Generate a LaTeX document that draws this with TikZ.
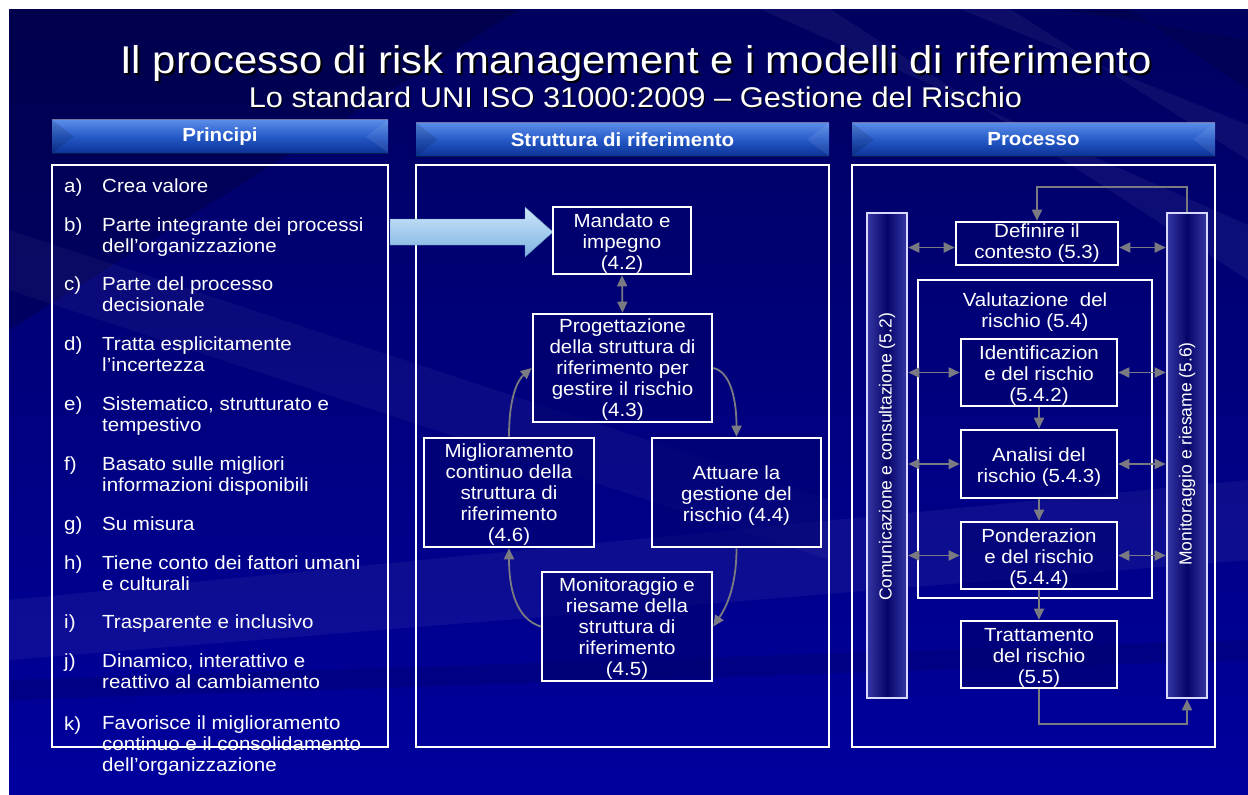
\documentclass[tikz,border=0pt]{standalone}
\usepackage{fontspec}
\setmainfont{Liberation Sans}[FakeStretch=1.08]
\newfontfamily\barfont{Liberation Sans}
\usetikzlibrary{arrows.meta}
\newcommand\tstrut{\rule{0pt}{20.5pt}}
\newcommand\sstrut{\rule{0pt}{17pt}}
\definecolor{bgdark}{RGB}{0,0,95}
\definecolor{bglight}{RGB}{0,0,158}
\definecolor{boxfill}{RGB}{0,0,110}
\definecolor{conngray}{RGB}{122,122,130}
\definecolor{hdrtop}{RGB}{90,140,232}
\definecolor{hdrmid}{RGB}{38,90,200}
\definecolor{hdrbot}{RGB}{12,50,150}
\definecolor{arrtop}{RGB}{205,230,250}
\definecolor{arrbot}{RGB}{125,178,225}
\definecolor{baredge}{RGB}{55,55,165}
\definecolor{barmid}{RGB}{5,5,105}
\tikzset{
  panel/.style={draw=white, line width=2.6pt},
  box/.style={draw=white, line width=2.6pt, fill=boxfill, fill opacity=0.55, text opacity=1, text=white, align=center, inner sep=0pt, font=\fontsize{19}{21}\selectfont},
  hdr/.style={top color=hdrtop, bottom color=hdrbot, middle color=hdrmid, draw=none, text=white, inner sep=0pt, font=\bfseries\fontsize{19}{22}\selectfont},
  vbar/.style={draw=white!85!blue, line width=2.6pt, left color=baredge, right color=baredge, middle color=barmid, inner sep=0pt},
  vtext/.style={text=white, rotate=90, inner sep=0pt, font=\barfont\fontsize{17.5}{19}\selectfont},
  lst/.style={text=white, anchor=base west, align=left, inner sep=0pt, font=\fontsize{19}{21}\selectfont},
  conn/.style={draw=conngray, line width=1.8pt},
  one/.style={conn, -{Triangle[length=11pt,width=10pt]}},
  two/.style={conn, {Triangle[length=11pt,width=10pt]}-{Triangle[length=11pt,width=10pt]}},
}
\begin{document}
\begin{tikzpicture}[x=1pt, y=-1pt]
\useasboundingbox (0,0) rectangle (1248,795);
\fill[white] (0,0) rectangle (1248,795);
% background
\shade[top color=bgdark, bottom color=bglight] (9,9) rectangle (1248,795);
\fill[black, opacity=0.18] (9,9) -- (520,9) -- (9,330) -- cycle;
\fill[white, opacity=0.05] (760,9) -- (830,9) -- (1248,280) -- (1248,225) -- cycle;
\fill[white, opacity=0.05] (960,9) -- (1010,9) -- (1248,160) -- (1248,125) -- cycle;
\fill[black, opacity=0.12] (1060,9) -- (1130,9) -- (1248,90) -- (1248,40) -- cycle;
\fill[white, opacity=0.04] (9,230) -- (9,290) -- (830,560) -- (830,500) -- cycle;
\fill[white, opacity=0.05] (9,600) -- (1248,480) -- (1248,560) -- (9,660) -- cycle;
\fill[black, opacity=0.10] (9,680) -- (1248,640) -- (1248,660) -- (9,700) -- cycle;

% titles
\node[text=black, anchor=base, font=\fontsize{38.7}{44}\selectfont] at (638,75) {Il processo di risk management e i modelli di riferimento};
\node[text=white, anchor=base, font=\fontsize{38.7}{44}\selectfont] (title) at (636,73) {Il processo di risk management e i modelli di riferimento};
\node[text=black, anchor=base, font=\fontsize{28.5}{32}\selectfont] at (636.5,108) {Lo standard UNI ISO 31000:2009 – Gestione del Rischio};
\node[text=white, anchor=base, font=\fontsize{28.5}{32}\selectfont] (subtitle) at (635.5,107) {Lo standard UNI ISO 31000:2009 – Gestione del Rischio};

% header bars
\node[hdr, minimum width=336pt, minimum height=33pt] (h1) at (220,136.5) {Principi};
\node[hdr, minimum width=413pt, minimum height=33pt] (h2) at (622.5,139.5) {Struttura di riferimento};
\node[hdr, minimum width=363pt, minimum height=33pt] (h3) at (1033.5,139.5) {Processo};
\foreach \h in {h1,h2,h3}{
  \fill[black, opacity=0.12] (\h.north west) -- ([xshift=22pt]\h.west) -- (\h.south west) -- cycle;
  \fill[white, opacity=0.08] (\h.north east) -- ([xshift=-22pt]\h.east) -- (\h.south east) -- cycle;
  \draw[white, opacity=0.45, line width=1pt] (\h.north west) -- (\h.north east);
  \draw[black, opacity=0.45, line width=1.2pt] (\h.south west) -- (\h.south east);
}

% left list (base anchor of a multi-line node = its last line)
\node[lst] (la) at (64,192.5) {a)}; \node[lst] (ta) at (102,192.5) {Crea valore};
\node[lst] (lb) at (64,231) {b)};   \node[lst] (tb) at (102,252) {Parte integrante dei processi\\dell’organizzazione};
\node[lst] (lc) at (64,290) {c)};   \node[lst] (tc) at (102,311) {Parte del processo\\decisionale};
\node[lst] (ld) at (64,350) {d)};   \node[lst] (td) at (102,371) {Tratta esplicitamente\\l’incertezza};
\node[lst] (le) at (64,410) {e)};   \node[lst] (te) at (102,431) {Sistematico, strutturato e\\tempestivo};
\node[lst] (lf) at (64,470) {f)};   \node[lst] (tf) at (102,491) {Basato sulle migliori\\informazioni disponibili};
\node[lst] (lg) at (64,530) {g)};   \node[lst] (tg) at (102,530) {Su misura};
\node[lst] (lh) at (64,569) {h)};   \node[lst] (th) at (102,590) {Tiene conto dei fattori umani\\e culturali};
\node[lst] (li) at (64,628) {i)};   \node[lst] (ti) at (102,628) {Trasparente e inclusivo};
\node[lst] (lj) at (64,667) {j)};   \node[lst] (tj) at (102,688) {Dinamico, interattivo e\\reattivo al cambiamento};
\node[lst] (lk) at (64,730) {k)};   \node[lst] (tk) at (102,771) {Favorisce il miglioramento\\continuo e il consolidamento\\dell’organizzazione};

% panels
\draw[panel] (52,165) rectangle (388,747);
\draw[panel] (416,165) rectangle (829,747);
\draw[panel] (852,165) rectangle (1215,747);

% big arrow
\shade[top color=arrtop, bottom color=arrbot, draw=arrbot!80!black, line width=0.4pt]
  (390,219) -- (525,219) -- (525,207) -- (553,232) -- (525,257) -- (525,245) -- (390,245) -- cycle;

% middle boxes
\node[box, minimum width=138pt, minimum height=67pt] (mand) at (622,240.5) {\tstrut Mandato e\\impegno\\(4.2)};
\node[box, minimum width=179pt, minimum height=108pt] (prog) at (622.5,368) {\sstrut Progettazione\\della struttura di\\riferimento per\\gestire il rischio\\(4.3)};
\node[box, minimum width=170pt, minimum height=109pt] (mig) at (509,492.5) {\sstrut Miglioramento\\continuo della\\struttura di\\riferimento\\(4.6)};
\node[box, minimum width=169pt, minimum height=109pt] (att) at (736.5,492.5) {\tstrut Attuare la\\gestione del\\rischio (4.4)};
\node[box, minimum width=170pt, minimum height=109pt] (moni) at (627,626.5) {\sstrut Monitoraggio e\\riesame della\\struttura di\\riferimento\\(4.5)};

\draw[two] (mand.south) -- (prog.north);
\draw[one] (prog.east) .. controls +(18,4) and +(0,-35) .. (att.north);
\draw[one] (att.south) .. controls +(0,40) and +(12,-18) .. (moni.east);
\draw[one] (moni.west) .. controls +(-25,-8) and +(0,40) .. (mig.south);
\draw[one] (mig.north) .. controls +(0,-40) and +(-14,12) .. (prog.west);

% right panel
\node[vbar, minimum width=40pt, minimum height=485pt] (com) at (887,455.5) {};
\node[vtext] (comt) at (887,457) {Comunicazione e consultazione (5.2)};
\node[vbar, minimum width=40pt, minimum height=485pt] (mon) at (1187,455.5) {};
\node[vtext] (mont) at (1187,454) {Monitoraggio e riesame (5.6)};

\node[box, minimum width=162pt, minimum height=43pt] (def) at (1037,243.5) {Definire il\\contesto (5.3)};
\draw[panel] (918,280) rectangle (1152,598);
\node[text=white, align=center, inner sep=0pt, font=\fontsize{19}{21}\selectfont] (valt) at (1035,312) {Valutazione\ \ del\\rischio (5.4)};
\node[box, minimum width=156pt, minimum height=67pt] (ide) at (1039,372.5) {\tstrut Identificazion\\e del rischio\\(5.4.2)};
\node[box, minimum width=156pt, minimum height=68pt] (ana) at (1039,464) {\tstrut Analisi del\\rischio (5.4.3)};
\node[box, minimum width=156pt, minimum height=67pt] (pon) at (1039,555.5) {\tstrut Ponderazion\\e del rischio\\(5.4.4)};
\node[box, minimum width=156pt, minimum height=67pt] (tra) at (1039,654.5) {\tstrut Trattamento\\del rischio\\(5.5)};

\draw[one] (mon.north) -- ++(0,-25) -| (def.north);
\draw[two] ([yshift=-4pt]com.east |- def.west) -- ([yshift=-4pt]def.west);
\draw[two] ([yshift=-4pt]def.east) -- ([yshift=-4pt]mon.west |- def.east);
\foreach \b in {ide,ana,pon}{
  \draw[two] (com.east |- \b.west) -- (\b.west);
  \draw[two] (\b.east) -- (mon.west |- \b.east);
}
\draw[one] (ide.south) -- (ana.north);
\draw[one] (ana.south) -- (pon.north);
\draw[one] (pon.south) -- (tra.north);
\draw[one] (tra.south) -- ++(0,35) -| (mon.south);
\end{tikzpicture}
\end{document}
